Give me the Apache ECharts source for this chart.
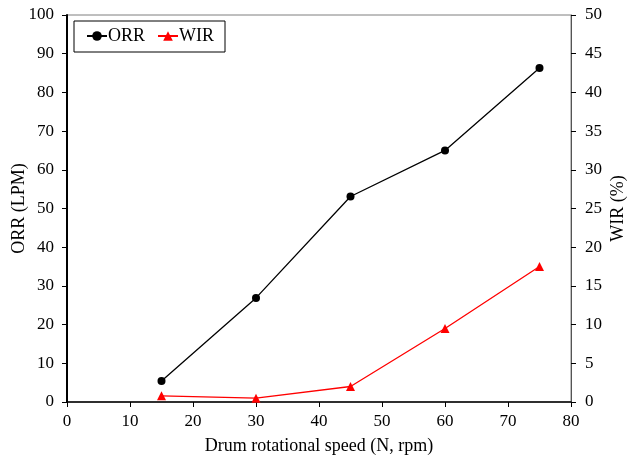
<!DOCTYPE html>
<html>
<head>
<meta charset="utf-8">
<script src="https://cdn.jsdelivr.net/npm/echarts@6/dist/echarts.min.js"></script>
<style>
  html, body { margin: 0; padding: 0; background: #fff; }
  #chart { width: 627px; height: 458px; }
</style>
</head>
<body>
<div id="chart"></div>
<script>
// Drum rotational speed (rpm)
const speeds = [15, 30, 45, 60, 75];
// Oil recovery rate (LPM), left axis
const orrValues = [5.4, 26.9, 53.1, 65.0, 86.3];
// Water intake rate (%), right axis
const wirValues = [0.8, 0.5, 2.0, 9.5, 17.5];

const serif = '"Liberation Serif", "Times New Roman", serif';

const chart = echarts.init(document.getElementById('chart'), null, { renderer: 'canvas' });

chart.setOption({
  backgroundColor: '#fff',
  animation: false,
  textStyle: { fontFamily: serif, color: '#000' },
  grid: {
    left: 67, right: 56, top: 15, bottom: 56,
    outerBoundsMode: 'none',
    containLabel: false,
    show: true, borderColor: '#7f7f7f', borderWidth: 1
  },
  legend: {
    left: 74, top: 21,
    orient: 'horizontal',
    padding: [6, 11, 7, 12],
    itemGap: 12,
    itemWidth: 20, itemHeight: 12,
    borderColor: '#000', borderWidth: 1,
    textStyle: { fontFamily: serif, fontSize: 18, color: '#000', padding: [0, 0, 0, -4] },
    data: ['ORR', 'WIR']
  },
  xAxis: {
    type: 'value',
    min: 0, max: 80, interval: 10,
    name: 'Drum rotational speed (N, rpm)',
    nameLocation: 'middle', nameGap: 35, nameMoveOverlap: false,
    nameTextStyle: { fontFamily: serif, fontSize: 18, color: '#000' },
    axisLine: { show: true, lineStyle: { color: '#000', width: 1.5 } },
    axisTick: { show: true, length: 5, lineStyle: { color: '#000' } },
    axisLabel: { fontFamily: serif, fontSize: 17, color: '#000', margin: 11 },
    splitLine: { show: false }
  },
  yAxis: [
    {
      type: 'value', position: 'left',
      min: 0, max: 100, interval: 10,
      name: 'ORR (LPM)',
      nameLocation: 'middle', nameGap: 39, nameRotate: 90, nameMoveOverlap: false,
      nameTextStyle: { fontFamily: serif, fontSize: 18, color: '#000' },
      axisLine: { show: true, lineStyle: { color: '#000', width: 2 } },
      axisTick: { show: true, length: 5, lineStyle: { color: '#000' } },
      axisLabel: { fontFamily: serif, fontSize: 17, color: '#000', margin: 13 },
      splitLine: { show: false }
    },
    {
      type: 'value', position: 'right',
      min: 0, max: 50, interval: 5,
      name: 'WIR (%)',
      nameLocation: 'middle', nameGap: 38, nameRotate: 90, nameMoveOverlap: false,
      nameTextStyle: { fontFamily: serif, fontSize: 18, color: '#000' },
      axisLine: { show: true, lineStyle: { color: '#555', width: 1 } },
      axisTick: { show: true, length: 5, lineStyle: { color: '#000' } },
      axisLabel: { fontFamily: serif, fontSize: 17, color: '#000', margin: 14 },
      splitLine: { show: false }
    }
  ],
  series: [
    {
      name: 'ORR', type: 'line', yAxisIndex: 0,
      data: speeds.map((s, i) => [s, orrValues[i]]),
      symbol: 'circle', symbolSize: 8,
      lineStyle: { color: '#000', width: 1.3 },
      itemStyle: { color: '#000' },
      z: 3
    },
    {
      name: 'WIR', type: 'line', yAxisIndex: 1,
      data: speeds.map((s, i) => [s, wirValues[i]]),
      symbol: 'triangle', symbolSize: 9,
      lineStyle: { color: '#ff0000', width: 1.3 },
      itemStyle: { color: '#ff0000' },
      z: 3
    }
  ]
});
</script>
</body>
</html>
